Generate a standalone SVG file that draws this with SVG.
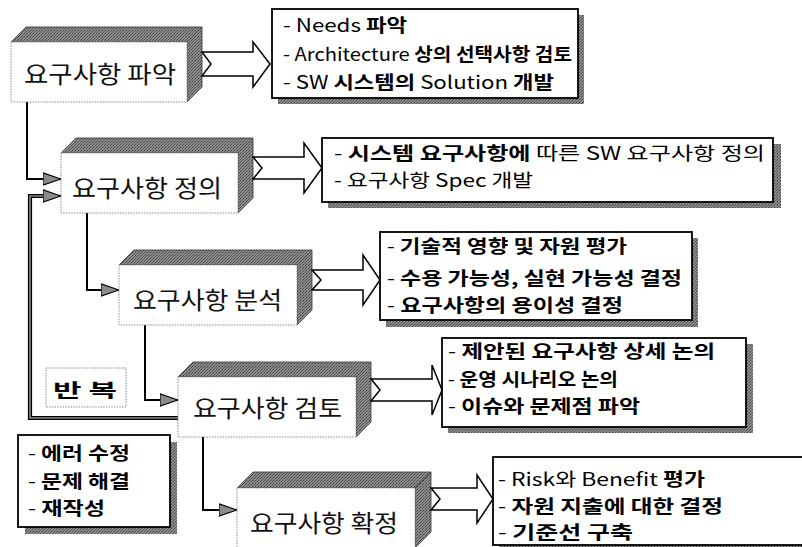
<svg xmlns="http://www.w3.org/2000/svg" width="802" height="547" viewBox="0 0 802 547">
  <defs>
    <!-- halftone grey used for bevel faces and drop shadows -->
    <pattern id="tex" width="3" height="3" patternUnits="userSpaceOnUse">
      <rect width="3" height="3" fill="#8e8e8e"/>
      <rect x="0" y="0" width="1" height="1" fill="#3c3c3c"/>
      <rect x="2" y="1" width="1" height="1" fill="#4c4c4c"/>
      <rect x="1" y="2" width="1" height="1" fill="#5c5c5c"/>
    </pattern>
    <marker id="tri" markerUnits="userSpaceOnUse" markerWidth="18" markerHeight="14" viewBox="0 0 16 12" refX="16" refY="6" orient="auto">
      <path d="M0,0.5 L16,6 L0,11.5 Z" fill="#8a8a8a" stroke="#000" stroke-width="1"/>
    </marker>
    <style>
      .face { fill: url(#tex); stroke: #333; stroke-width: 0.8; }
      .front { fill: #fff; stroke: #8a8a8a; stroke-width: 1; stroke-dasharray: 1.5 1.2; }
      .title { font-family: "Noto Sans CJK KR", "Noto Sans", sans-serif; font-size: 24px; fill: #111; }
      .shadow { fill: url(#tex); }
      .card { fill: #fff; stroke: #000; stroke-width: 1.8; }
      .item { font-family: "Noto Sans CJK KR", "Noto Sans", sans-serif; font-size: 18px; fill: #000; }
      .b { font-weight: 700; }
      .n { font-weight: 400; }
      .block { fill: #fff; stroke: #000; stroke-width: 1.5; stroke-linejoin: miter; }
      .link { fill: none; stroke: #000; stroke-width: 2; marker-end: url(#tri); }
    </style>
  </defs>

  <rect width="802" height="547" fill="#fff"/>

  <!-- flow connectors between the stages -->
  <g id="connectors">
    <path class="link" d="M27,102 V179 H61"/>
    <path class="link" d="M87,213 V290 H119"/>
    <path class="link" d="M145,325 V400 H178"/>
    <path class="link" d="M203,437 V510 H237"/>
    <!-- iteration loop back to the definition stage -->
    <path d="M178,418 H30 V196 H46" fill="none" stroke="#000" stroke-width="4.2"/>
    <path d="M178,418 H30 V196 H46" fill="none" stroke="#8a8a8a" stroke-width="1.6"/>
    <path class="link" d="M44,196 H61" stroke-width="0"/>
  </g>

  <!-- stage 1 -->
  <g id="stage-identify">
    <polygon class="face" points="11,42 26,27 202,27 187,42"/>
    <polygon class="face" points="187,42 202,27 202,87 187,102"/>
    <rect class="front" x="11" y="42" width="176" height="60"/>
    <text class="title" x="24" y="83" textLength="152" lengthAdjust="spacingAndGlyphs">요구사항 파악</text>
  </g>
  <g id="arrow-identify">
    <polygon class="block" points="202,52 253,52 253,42 270,64 253,87 253,76 202,76 211,64"/>
  </g>
  <g id="notes-identify">
    <rect class="shadow" x="278" y="15" width="306" height="89"/>
    <rect class="card" x="272" y="9" width="306" height="89"/>
    <text class="item" x="283" y="32" textLength="124" lengthAdjust="spacingAndGlyphs"><tspan class="n">- Needs </tspan><tspan class="b">파악</tspan></text>
    <text class="item" x="283" y="61" textLength="289" lengthAdjust="spacingAndGlyphs"><tspan class="n">- Architecture </tspan><tspan class="b">상의 선택사항 검토</tspan></text>
    <text class="item" x="283" y="89" textLength="271" lengthAdjust="spacingAndGlyphs"><tspan class="n">- SW </tspan><tspan class="b">시스템의</tspan><tspan class="n"> Solution </tspan><tspan class="b">개발</tspan></text>
  </g>

  <!-- stage 2 -->
  <g id="stage-define">
    <polygon class="face" points="61,153 76,138 253,138 238,153"/>
    <polygon class="face" points="238,153 253,138 253,198 238,213"/>
    <rect class="front" x="61" y="153" width="177" height="60"/>
    <text class="title" x="72" y="197" textLength="150" lengthAdjust="spacingAndGlyphs">요구사항 정의</text>
  </g>
  <g id="arrow-define">
    <polygon class="block" points="253,157 304,157 304,143 322,168 304,193 304,179 253,179 262,168"/>
  </g>
  <g id="notes-define">
    <rect class="shadow" x="328" y="144" width="453" height="64"/>
    <rect class="card" x="322" y="138" width="451" height="64"/>
    <text class="item" x="334" y="160" textLength="431" lengthAdjust="spacingAndGlyphs"><tspan class="n">- </tspan><tspan class="b">시스템 요구사항에</tspan><tspan class="n"> 따른 SW 요구사항 정의</tspan></text>
    <text class="item n" x="334" y="187" textLength="199" lengthAdjust="spacingAndGlyphs">- 요구사항 Spec 개발</text>
  </g>

  <!-- stage 3 -->
  <g id="stage-analyze">
    <polygon class="face" points="119,265 134,250 312,250 297,265"/>
    <polygon class="face" points="297,265 312,250 312,310 297,325"/>
    <rect class="front" x="119" y="265" width="178" height="60"/>
    <text class="title" x="133" y="309" textLength="149" lengthAdjust="spacingAndGlyphs">요구사항 분석</text>
  </g>
  <g id="arrow-analyze">
    <polygon class="block" points="312,270 363,270 363,255 380,280 363,305 363,290 312,290 321,280"/>
  </g>
  <g id="notes-analyze">
    <rect class="shadow" x="386" y="238" width="312" height="89"/>
    <rect class="card" x="380" y="232" width="312" height="88"/>
    <text class="item" x="387" y="253" textLength="240" lengthAdjust="spacingAndGlyphs"><tspan class="n">- </tspan><tspan class="b">기술적 영향 및 자원 평가</tspan></text>
    <text class="item" x="387" y="285" textLength="295" lengthAdjust="spacingAndGlyphs"><tspan class="n">- </tspan><tspan class="b">수용 가능성, 실현 가능성 결정</tspan></text>
    <text class="item" x="387" y="312" textLength="236" lengthAdjust="spacingAndGlyphs"><tspan class="n">- </tspan><tspan class="b">요구사항의 용이성 결정</tspan></text>
  </g>

  <!-- stage 4 -->
  <g id="stage-review">
    <polygon class="face" points="178,377 193,362 371,362 356,377"/>
    <polygon class="face" points="356,377 371,362 371,422 356,437"/>
    <rect class="front" x="178" y="377" width="178" height="60"/>
    <text class="title" x="193" y="417" textLength="149" lengthAdjust="spacingAndGlyphs">요구사항 검토</text>
  </g>
  <g id="arrow-review">
    <polygon class="block" points="371,379 432,379 432,365 442,390 432,415 432,401 371,401 380,390"/>
  </g>
  <g id="notes-review">
    <rect class="shadow" x="448" y="344" width="305" height="89"/>
    <rect class="card" x="442" y="338" width="304" height="89"/>
    <text class="item" x="448" y="358" textLength="267" lengthAdjust="spacingAndGlyphs"><tspan class="n">- </tspan><tspan class="b">제안된 요구사항 상세 논의</tspan></text>
    <text class="item" x="448" y="386" textLength="170" lengthAdjust="spacingAndGlyphs"><tspan class="n">- </tspan><tspan class="b">운영 시나리오 논의</tspan></text>
    <text class="item" x="448" y="413" textLength="192" lengthAdjust="spacingAndGlyphs"><tspan class="n">- </tspan><tspan class="b">이슈와 문제점 파악</tspan></text>
  </g>

  <!-- stage 5 -->
  <g id="stage-confirm">
    <polygon class="face" points="237,488 253,472 431,472 415,488"/>
    <polygon class="face" points="415,488 431,472 431,532 415,548"/>
    <rect class="front" x="237" y="488" width="178" height="62"/>
    <text class="title" x="250" y="532" textLength="148" lengthAdjust="spacingAndGlyphs">요구사항 확정</text>
  </g>
  <g id="arrow-confirm">
    <polygon class="block" points="431,488 477,488 477,475 493,499 477,523 477,510 431,510 440,499"/>
  </g>
  <g id="notes-confirm">
    <rect class="shadow" x="499" y="463" width="320" height="90"/>
    <rect class="card" x="493" y="457" width="320" height="88"/>
    <text class="item" x="498" y="486" textLength="207" lengthAdjust="spacingAndGlyphs"><tspan class="n">- Risk와 Benefit </tspan><tspan class="b">평가</tspan></text>
    <text class="item" x="498" y="513" textLength="225" lengthAdjust="spacingAndGlyphs"><tspan class="n">- </tspan><tspan class="b">자원 지출에 대한 결정</tspan></text>
    <text class="item" x="498" y="539" textLength="135" lengthAdjust="spacingAndGlyphs"><tspan class="n">- </tspan><tspan class="b">기준선 구축</tspan></text>
  </g>

  <!-- loop label -->
  <g id="label-repeat">
    <rect x="46" y="368" width="80" height="39" fill="#fff" stroke="#8a8a8a" stroke-width="1" stroke-dasharray="1.5 1.2"/>
    <text class="item b" x="53" y="397" font-size="22" textLength="64" lengthAdjust="spacingAndGlyphs">반 복</text>
  </g>

  <!-- rework activities -->
  <g id="notes-rework">
    <rect class="shadow" x="25" y="442" width="152" height="92"/>
    <rect class="card" x="18" y="435" width="152" height="92"/>
    <text class="item" x="28" y="460" textLength="102" lengthAdjust="spacingAndGlyphs"><tspan class="n">- </tspan><tspan class="b">에러 수정</tspan></text>
    <text class="item" x="28" y="488" textLength="102" lengthAdjust="spacingAndGlyphs"><tspan class="n">- </tspan><tspan class="b">문제 해결</tspan></text>
    <text class="item" x="28" y="515" textLength="77" lengthAdjust="spacingAndGlyphs"><tspan class="n">- </tspan><tspan class="b">재작성</tspan></text>
  </g>
</svg>
